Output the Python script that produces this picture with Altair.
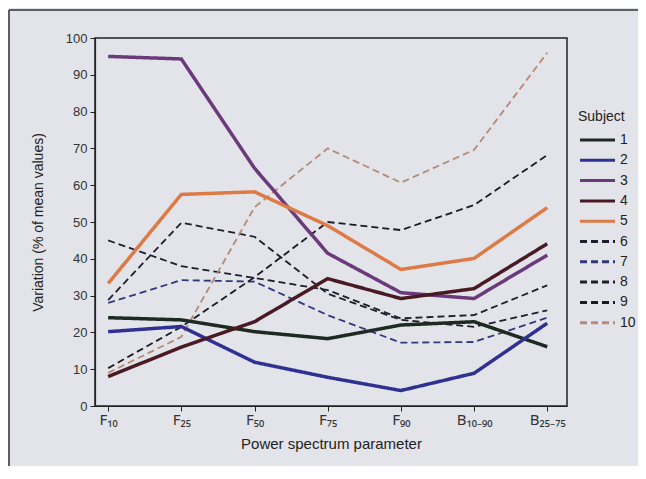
import altair as alt
import pandas as pd

categories = ["F₁₀", "F₂₅", "F₅₀", "F₇₅", "F₉₀", "B₁₀₋₉₀", "B₂₅₋₇₅"]
subjects = ["1", "2", "3", "4", "5", "6", "7", "8", "9", "10"]

s1 = [24.0, 23.4, 20.2, 18.3, 22.0, 22.9, 16.1]
s2 = [20.2, 21.6, 11.9, 7.8, 4.2, 8.9, 22.5]
s3 = [95.0, 94.3, 64.6, 41.5, 30.8, 29.2, 41.0]
s4 = [8.0, 16.0, 22.9, 34.6, 29.2, 31.9, 44.1]
s5 = [33.3, 57.5, 58.2, 49.0, 37.1, 40.1, 53.9]
s6 = [28.8, 49.8, 46.0, 30.5, 23.4, 21.5, 26.0]
s7 = [28.0, 34.2, 33.8, 24.7, 17.2, 17.4, 24.0]
s8 = [45.0, 38.0, 34.8, 31.5, 23.8, 24.7, 32.8]
s9 = [10.3, 21.5, 35.0, 50.0, 47.8, 54.6, 68.2]
s10 = [9.0, 18.8, 54.0, 70.0, 60.7, 69.6, 96.0]

series = [s1, s2, s3, s4, s5, s6, s7, s8, s9, s10]
colors = ["#1d2a22", "#2e3191", "#6b3a7a", "#4a1a24", "#dd7a45",
          "#1e1e2c", "#34377c", "#1e1e2c", "#1a1a22", "#b48a78"]
dashes = [[1, 0]] * 5 + [[7, 4]] * 5
solid_subjects = subjects[:5]
dashed_subjects = subjects[5:]

rows = []
for subj, vals in zip(subjects, series):
    for cat, v in zip(categories, vals):
        rows.append({"Subject": subj, "param": cat, "value": v})
df = pd.DataFrame(rows)

FONT = "Liberation Sans"
BG = "#e2e4e9"

legend_opts = dict(title="Subject", orient="none", legendX=483, legendY=72,
                   symbolType="M-1,0H6", symbolSize=100,
                   symbolStrokeWidth=3, labelFontSize=14,
                   titleFontSize=14, titleFontWeight="normal",
                   titlePadding=9, rowPadding=6.3, labelOffset=28)

x_enc = alt.X("param:N", sort=categories,
              scale=alt.Scale(type="point", padding=0.225, align=0.4),
              axis=alt.Axis(title="Power spectrum parameter", labelAngle=0, labelFontSize=15,
                            labelFont="Noto Sans", labelPadding=1,
                            titleFontSize=15, titlePadding=9, zindex=2))
y_enc = alt.Y("value:Q", scale=alt.Scale(domain=[0, 100], nice=False),
              axis=alt.Axis(title="Variation (% of mean values)", values=list(range(0, 101, 10)),
                            titleFontSize=14, titlePadding=20, labelPadding=3, zindex=2))

color_enc = alt.Color("Subject:N", scale=alt.Scale(domain=subjects, range=colors),
                      legend=alt.Legend(**legend_opts))
dash_enc = alt.StrokeDash("Subject:N", scale=alt.Scale(domain=subjects, range=dashes),
                          legend=alt.Legend(**legend_opts))

base = alt.Chart(df).encode(x=x_enc, y=y_enc, color=color_enc, strokeDash=dash_enc)

solid = base.transform_filter(
    alt.FieldOneOfPredicate(field="Subject", oneOf=solid_subjects)
).mark_line(strokeWidth=3.5, strokeJoin="miter")
dashed = base.transform_filter(
    alt.FieldOneOfPredicate(field="Subject", oneOf=dashed_subjects)
).mark_line(strokeWidth=1.8)

frame_src = pd.DataFrame({"a": [0]})
frame_left = alt.Chart(frame_src).mark_rule(color="#333", strokeWidth=1.5).encode(
    x=alt.value(-86), y=alt.value(-28), y2=alt.value(460))
frame_top = alt.Chart(frame_src).mark_rule(color="#333", strokeWidth=1.5).encode(
    y=alt.value(-28), x=alt.value(-86), x2=alt.value(700))

chart = alt.layer(frame_left, frame_top, dashed, solid).properties(
    width=472, height=368,
    padding={"left": 87, "top": 30, "right": 71, "bottom": 60},
    autosize=alt.AutoSizeParams(type="none"),
    background=BG,
).configure_view(
    stroke="#222", strokeWidth=1.5, fill=None
).configure_axis(
    grid=False, domainColor="#222", tickColor="#222", labelColor="#333",
    titleColor="#222", labelFont=FONT, titleFont=FONT, labelFontSize=13,
    tickSize=5, domainWidth=1.2, titleFontWeight="normal"
).configure_legend(
    labelFont=FONT, titleFont=FONT, labelColor="#222", titleColor="#222"
)

chart.save("out.html", embed_options={"renderer": "svg", "actions": False})
